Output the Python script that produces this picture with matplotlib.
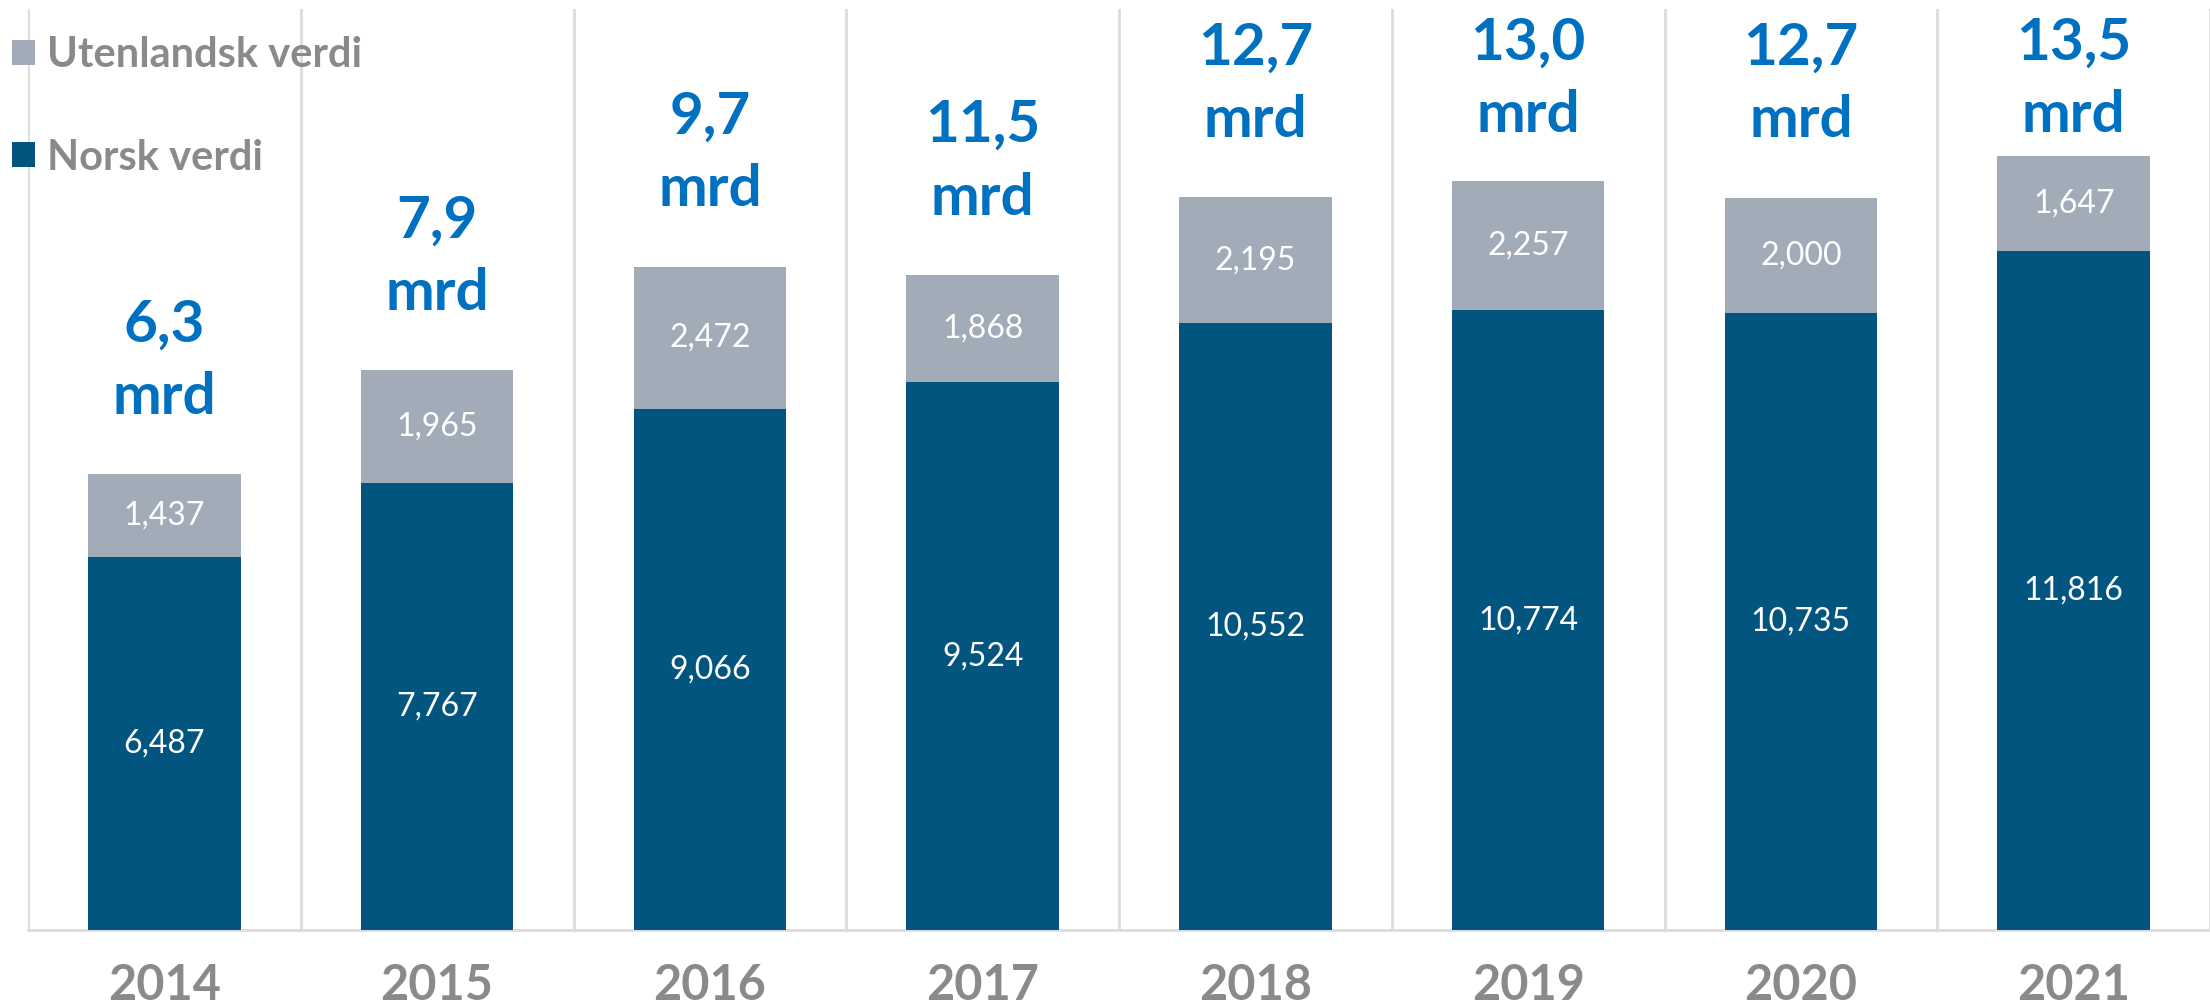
import numpy as np
import matplotlib
matplotlib.use("Agg")
import matplotlib.pyplot as plt

# data
years = ["2014", "2015", "2016", "2017", "2018", "2019", "2020", "2021"]
norsk = [6487, 7767, 9066, 9524, 10552, 10774, 10735, 11816]
utenlandsk = [1437, 1965, 2472, 1868, 2195, 2257, 2000, 1647]
total_labels = ["6,3", "7,9", "9,7", "11,5", "12,7", "13,0", "12,7", "13,5"]

DARK = "#02557F"
LIGHT = "#A2ACB9"
BLUE = "#0070C0"
GREY = "#8A8A8A"
GRID = "#DCDCDC"

plt.rcParams['font.family'] = ['Lato', 'DejaVu Sans']

fig = plt.figure(figsize=(22.1, 10.06), dpi=100)
ax = fig.add_axes([28 / 2210, 76 / 1006, 1 - 28 / 2210, (930 - 9) / 1006])

x = np.arange(len(years))
norsk = np.array(norsk)
utenlandsk = np.array(utenlandsk)
totals = norsk + utenlandsk

b1 = ax.bar(x, norsk, width=0.56, color=DARK, zorder=3, label="Norsk verdi")
b2 = ax.bar(x, utenlandsk, width=0.56, bottom=norsk, color=LIGHT, zorder=3,
            label="Utenlandsk verdi")

ax.set_xlim(-0.5, len(years) - 0.5)
ax.set_ylim(0, 16017)

# segment labels
for i in range(len(years)):
    ax.text(x[i], norsk[i] / 2, f"{norsk[i]:,}", ha='center', va='center',
            color='white', fontsize=23, fontweight='normal', zorder=4)
    ax.text(x[i], norsk[i] + utenlandsk[i] / 2, f"{utenlandsk[i]:,}",
            ha='center', va='center', color='white', fontsize=23,
            fontweight='normal', zorder=4)
    # total label above each bar, kept inside the top of the plot
    ypos = min(totals[i] + 1050, 13880)
    ax.text(x[i], ypos, total_labels[i] + "\nmrd", ha='center', va='baseline',
            color=BLUE, fontsize=42, fontweight='bold', linespacing=1.45,
            zorder=4)

# category separators
ax.set_xticks(x)
ax.set_xticklabels(years, fontsize=35, fontweight='bold', color=GREY)
ax.set_xticks(np.arange(-0.5, len(years)), minor=True)
ax.grid(which='minor', axis='x', color=GRID, linewidth=2, zorder=0)
ax.tick_params(axis='x', which='both', length=0, pad=24)
ax.set_yticks([])
for side in ['top', 'right', 'left']:
    ax.spines[side].set_visible(False)
ax.spines['bottom'].set_color(GRID)
ax.spines['bottom'].set_linewidth(2)

leg = ax.legend(handles=[b2, b1], loc='upper left',
                bbox_to_anchor=(12 / 2210, 1 - 36 / 1006),
                bbox_transform=fig.transFigure, frameon=False, fontsize=30,
                handlelength=0.55, handleheight=0.55, handletextpad=0.3,
                labelspacing=1.55, borderpad=0, borderaxespad=0)
for t in leg.get_texts():
    t.set_color(GREY)
    t.set_fontweight('bold')

fig.savefig("out.png", dpi=100)
